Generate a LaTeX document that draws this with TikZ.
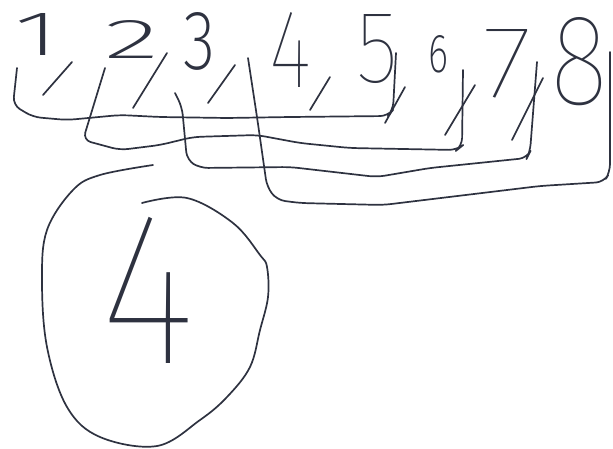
\documentclass[tikz,border=0pt]{standalone}
\usepackage{fontspec}
\usepackage{graphicx}
\newfontfamily\handfont{Fira Sans Thin}
\newfontfamily\handfontb{Fira Sans ExtraLight}
\definecolor{ink}{HTML}{2E3240}
\newcommand\dgt[3]{\resizebox{#1pt}{#2pt}{#3}}
\tikzset{
  digit/.style={inner sep=0pt, outer sep=0pt, font=\handfont, text=ink},
  digitb/.style={digit, font=\handfontb},
  pen/.style={draw=ink, line width=1.7pt, line cap=round, line join=round},
}
\begin{document}
\begin{tikzpicture}[x=1pt,y=-1pt]
\useasboundingbox (0,0) rectangle (613,448);
% digits
\node[digitb] (d1) at (37,34) {\dgt{45}{42}{1}};
\node[digitb] (d2) at (132,39) {\dgt{55}{38}{2}};
\node[digitb] (d3) at (200,41) {\dgt{32}{57}{3}};
\node[digit] (d4) at (291,50) {\dgt{42}{75}{4}};
\node[digit] (d5) at (378,49) {\dgt{42}{68}{5}};
\node[digitb] (d6) at (438,54) {\dgt{20}{37}{6}};
\node[digit] (d7) at (508,64) {\dgt{50}{68}{7}};
\node[digit] (d8) at (580,62) {\dgt{58}{87}{8}};
% commas
\draw[pen] (72,62) -- (43,95);
\draw[pen] (167,53) -- (133,108);
\draw[pen] (235,65) -- (208,103);
\draw[pen] (330,77) -- (310,110);
\draw[pen] (405,87) -- (385,123);
\draw[pen] (475,85) -- (445,135);
\draw[pen] (543,78) -- (512,140);
% bracket 1-5
\coordinate (a0) at (17,68);
\coordinate (a1) at (396,53);
\draw[pen, rounded corners=8pt] (a0) -- (13,105) -- (33,117) -- (67,120) -- (120,115)
  -- (160,117) -- (227,118) -- (290,117) -- (388,116) -- (393,110) -- (a1);
% bracket 2-6
\coordinate (b0) at (105,68);
\coordinate (b1) at (463,70);
\draw[pen, rounded corners=8pt] (b0) -- (83,140) -- (120,150) -- (160,145) -- (193,137)
  -- (257,135) -- (300,143) -- (350,148) -- (457,150) -- (462,146) -- (b1);
% bracket 3-7
\coordinate (c0) at (175,93);
\coordinate (c1) at (537,62);
\draw[pen, rounded corners=8pt] (c0) -- (182,107) -- (187,160) -- (200,168) -- (290,167)
  -- (377,177) -- (430,168) -- (527,158) -- (530,152) -- (c1);
% bracket 4-8
\coordinate (e0) at (248,58);
\coordinate (e1) at (610,52);
\draw[pen, rounded corners=8pt] (e0) -- (257,117) -- (267,187) -- (277,200) -- (300,203)
  -- (383,205) -- (540,186) -- (604,182) -- (610,172) -- (e1);
% circled 4
\draw[pen] plot[smooth, tension=0.6] coordinates {
  (142,203) (187,198) (233,223) (260,255) (267,267) (268,297) (260,330) (250,367)
  (227,397) (200,420) (157,446) (100,437) (67,407) (47,347) (42,280) (47,230)
  (73,190) (100,175) (153,165)};
\node[digit] (big4) at (148,290) {\dgt{95}{146}{4}};
\end{tikzpicture}
\end{document}
